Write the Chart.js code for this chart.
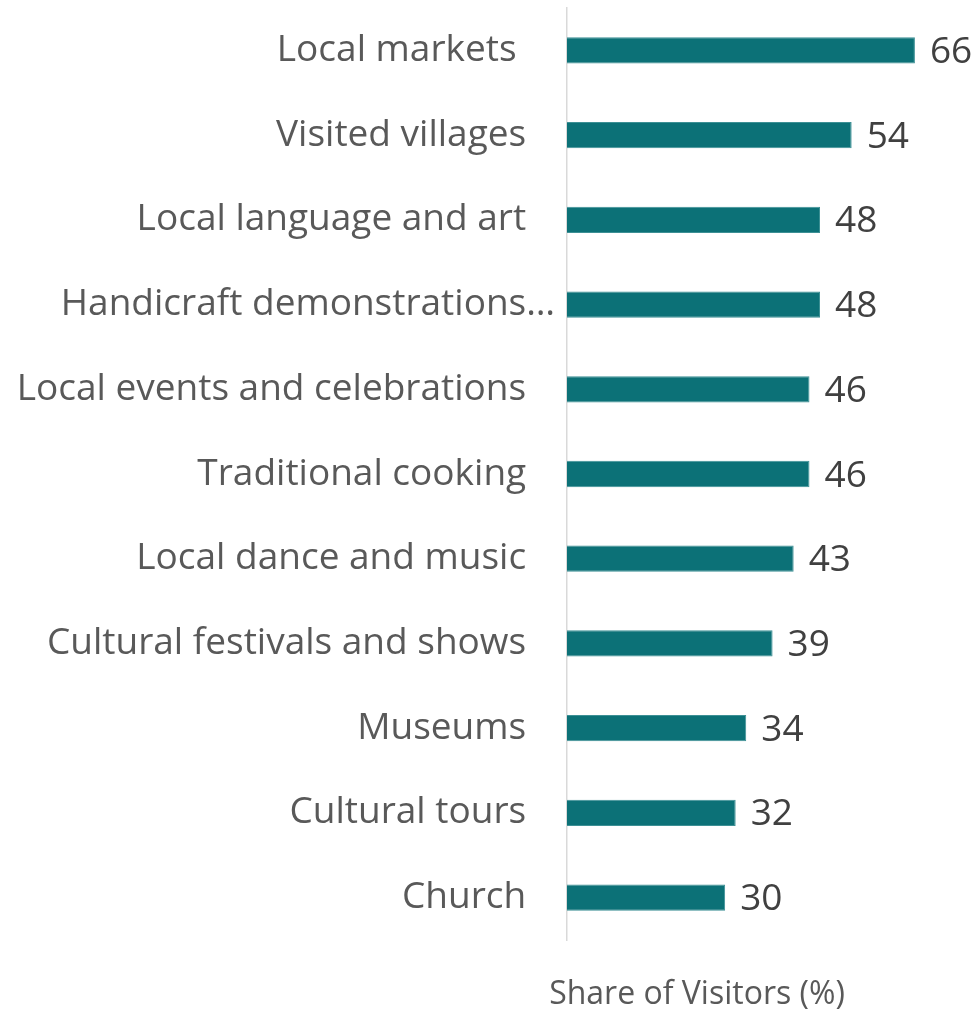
<!DOCTYPE html>
<html>
<head>
<meta charset="utf-8">
<script src="https://cdn.jsdelivr.net/npm/chart.js@4"></script>
<style>
  html, body { margin: 0; padding: 0; background: #ffffff; }
  #wrap { width: 979px; height: 1010px; }
</style>
</head>
<body>
<div id="wrap"><canvas id="chart-activities"></canvas></div>
<script>
var categories = [
    'Local markets ',
    'Visited villages',
    'Local language and art',
    'Handicraft demonstrations…',
    'Local events and celebrations',
    'Traditional cooking',
    'Local dance and music',
    'Cultural festivals and shows',
    'Museums',
    'Cultural tours',
    'Church'
];
var shares = [66, 54, 48, 48, 46, 46, 43, 39, 34, 32, 30];
var axisTitle = 'Share of Visitors (%)';

(function () {
    'use strict';
    var teal = '#0c7177';
    var labelGrey = '#595959';
    var fontFamily = '"Open Sans", sans-serif';
    var pad = '   ';

    // numbers printed just past the end of each bar
    var valueLabels = {
        id: 'valueLabels',
        afterDatasetsDraw: function (chart) {
            var ctx = chart.ctx;
            var meta = chart.getDatasetMeta(0);
            ctx.save();
            ctx.font = '37px ' + fontFamily;
            ctx.fillStyle = '#404040';
            ctx.textAlign = 'left';
            ctx.textBaseline = 'middle';
            meta.data.forEach(function (bar, i) {
                ctx.fillText(String(shares[i]), bar.x + 15, bar.y + 2);
            });
            ctx.restore();
        }
    };

    // axis caption below the plot
    var caption = {
        id: 'caption',
        afterDraw: function (chart) {
            var ctx = chart.ctx;
            var area = chart.chartArea;
            ctx.save();
            ctx.font = '32px ' + fontFamily;
            ctx.fillStyle = labelGrey;
            ctx.textAlign = 'center';
            ctx.textBaseline = 'middle';
            ctx.fillText(axisTitle, area.left + 130, area.bottom + 55);
            ctx.restore();
        }
    };

    new Chart(document.getElementById('chart-activities'), {
        type: 'bar',
        data: {
            labels: categories,
            datasets: [
                {
                    data: shares,
                    backgroundColor: teal,
                    borderColor: '#3d9095',
                    borderWidth: 1,
                    borderSkipped: 'start',
                    categoryPercentage: 1,
                    barPercentage: 0.31
                }
            ]
        },
        options: {
            indexAxis: 'y',
            responsive: true,
            maintainAspectRatio: false,
            animation: false,
            layout: { padding: { top: 8, right: 43, bottom: 70, left: 0 } },
            plugins: {
                legend: { display: false },
                tooltip: { enabled: false }
            },
            scales: {
                x: {
                    min: 0,
                    max: 70,
                    display: false
                },
                y: {
                    afterFit: function (scale) {
                        scale.width = 567;
                        scale.paddingTop = 0;
                        scale.paddingBottom = 0;
                    },
                    grid: { display: false, drawTicks: false },
                    border: { display: true, color: '#d9d9d9', width: 1.5 },
                    ticks: {
                        padding: 12,
                        color: labelGrey,
                        font: { family: fontFamily, size: 37 },
                        callback: function (value) {
                            var label = this.getLabelForValue(value);
                            return label.slice(-1) === '…' ? label : label + pad;
                        }
                    }
                }
            }
        },
        plugins: [valueLabels, caption]
    });
})();
</script>
</body>
</html>
